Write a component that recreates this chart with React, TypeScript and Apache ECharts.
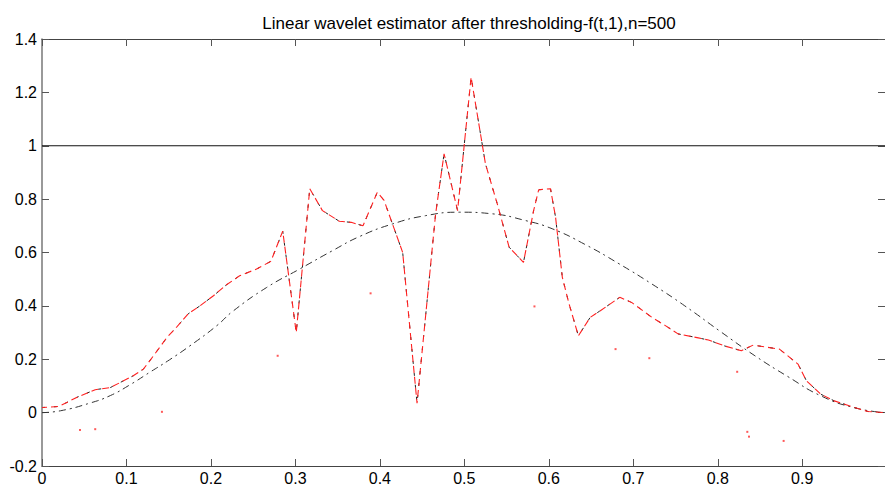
import React, { useEffect, useRef } from "react";
import * as echarts from "echarts";

const titleText = "Linear wavelet estimator after thresholding-f(t,1),n=500";

const estX = [0.000,0.020,0.041,0.063,0.081,0.108,0.120,0.132,0.148,0.159,0.173,0.187,0.203,0.218,0.234,0.254,0.271,0.285,0.301,0.317,0.332,0.352,0.366,0.380,0.397,0.405,0.427,0.444,0.466,0.476,0.492,0.508,0.525,0.539,0.553,0.570,0.582,0.588,0.602,0.608,0.616,0.624,0.635,0.649,0.661,0.684,0.698,0.722,0.738,0.753,0.777,0.789,0.808,0.828,0.842,0.873,0.895,0.905,0.922,0.938,0.962,0.978,0.998];
const estY = [0.019,0.023,0.057,0.086,0.094,0.138,0.163,0.213,0.282,0.319,0.370,0.400,0.438,0.478,0.513,0.538,0.567,0.680,0.300,0.839,0.757,0.717,0.713,0.700,0.826,0.795,0.600,0.035,0.745,0.970,0.757,1.257,0.932,0.782,0.620,0.563,0.757,0.835,0.839,0.732,0.507,0.407,0.288,0.357,0.382,0.432,0.413,0.357,0.326,0.295,0.280,0.272,0.250,0.232,0.253,0.238,0.182,0.119,0.069,0.044,0.019,0.004,0.000];

const trueX = [0.000,0.022,0.057,0.081,0.104,0.128,0.151,0.175,0.207,0.226,0.266,0.305,0.344,0.376,0.415,0.454,0.494,0.533,0.572,0.604,0.643,0.683,0.722,0.761,0.804,0.844,0.883,0.922,0.962,0.998];
const trueY = [0.000,0.007,0.036,0.064,0.104,0.152,0.198,0.250,0.326,0.380,0.469,0.538,0.607,0.660,0.707,0.738,0.751,0.745,0.720,0.689,0.630,0.558,0.482,0.400,0.302,0.213,0.135,0.063,0.018,0.000];

const refX = [0, 0.998];
const refY = [1, 1];

const dotX = [0.045,0.063,0.142,0.279,0.389,0.583,0.679,0.719,0.823,0.835,0.837,0.878];
const dotY = [-0.065,-0.062,0.003,0.213,0.447,0.398,0.238,0.204,0.153,-0.072,-0.090,-0.106];

const yTicks = [-0.2, 0, 0.2, 0.4, 0.6, 0.8, 1, 1.2, 1.4];

const zip = (xs: number[], ys: number[]) => xs.map((x, i) => [x, ys[i]]);

const FONT = "'Liberation Sans', Arial, sans-serif";

export default function App() {
  const ref = useRef<HTMLDivElement>(null);
  useEffect(() => {
    if (!ref.current) return;
    const chart = echarts.init(ref.current, undefined, { renderer: "svg" });
    const axisLine = { show: true, onZero: false, lineStyle: { color: "#444", width: 1 } };
    const tick = { show: true, inside: true, length: 7, lineStyle: { color: "#555" } };
    chart.setOption({
      animation: false,
      backgroundColor: "#fff",
      title: {
        text: titleText,
        left: 464,
        textAlign: "center",
        top: 10,
        textStyle: { fontSize: 17, fontWeight: "normal", color: "#000", fontFamily: FONT },
      },
      grid: { left: 42, top: 39, right: -4, bottom: 20, containLabel: false },
      xAxis: [
        {
          type: "value",
          min: 0,
          max: 0.998,
          interval: 0.1,
          position: "bottom",
          axisLine,
          axisTick: tick,
          splitLine: { show: false },
          axisLabel: {
            fontSize: 16,
            color: "#000",
            fontFamily: FONT,
            margin: 4,
            showMaxLabel: false,
            formatter: (v: number) => {
              const r = Math.round(v * 10) / 10;
              return Math.abs(r - v) < 1e-6 && r < 0.95 ? String(r) : "";
            },
          },
        },
        {
          type: "value",
          min: 0,
          max: 0.998,
          interval: 0.1,
          position: "top",
          axisLine,
          axisTick: tick,
          splitLine: { show: false },
          axisLabel: { show: false },
        },
      ],
      yAxis: [
        {
          type: "value",
          min: -0.2,
          max: 1.4,
          interval: 0.2,
          position: "left",
          axisLine: { show: true, onZero: false, lineStyle: { color: "#777", width: 1.5 } },
          axisTick: tick,
          splitLine: { show: false },
          axisLabel: {
            fontSize: 16,
            color: "#000",
            fontFamily: FONT,
            margin: 5,
            formatter: (v: number) => {
              const m = yTicks.find((t) => Math.abs(t - v) < 1e-6);
              return m === undefined ? "" : String(m);
            },
          },
        },
        {
          type: "value",
          min: -0.2,
          max: 1.4,
          interval: 0.2,
          position: "right",
          axisLine,
          axisTick: tick,
          splitLine: { show: false },
          axisLabel: { show: false },
        },
      ],
      series: [
        {
          name: "ref",
          type: "line",
          data: zip(refX, refY),
          symbol: "none",
          lineStyle: { color: "#111", width: 1 },
          z: 1,
        },
        {
          name: "true",
          type: "line",
          data: zip(trueX, trueY),
          symbol: "none",
          smooth: 0.5,
          lineStyle: { color: "#333", width: 1, type: [7, 4, 2, 4] },
          z: 2,
        },
        {
          name: "est-black",
          type: "line",
          data: zip(estX, estY),
          symbol: "none",
          lineStyle: { color: "#222", width: 1, type: [3, 9] },
          z: 3,
        },
        {
          name: "est-red",
          type: "line",
          data: zip(estX, estY),
          symbol: "none",
          lineStyle: { color: "#ff2020", width: 1.1, type: [7, 4], dashOffset: 2 },
          z: 4,
        },
        {
          name: "dots",
          type: "scatter",
          data: zip(dotX, dotY),
          symbol: "rect",
          symbolSize: 2,
          itemStyle: { color: "#ff3030" },
          z: 5,
        },
      ],
    });
    return () => chart.dispose();
  }, []);
  return (
    <div
      ref={ref}
      style={{ position: "fixed", left: 0, top: 0, width: 885, height: 486, background: "#fff" }}
    />
  );
}
